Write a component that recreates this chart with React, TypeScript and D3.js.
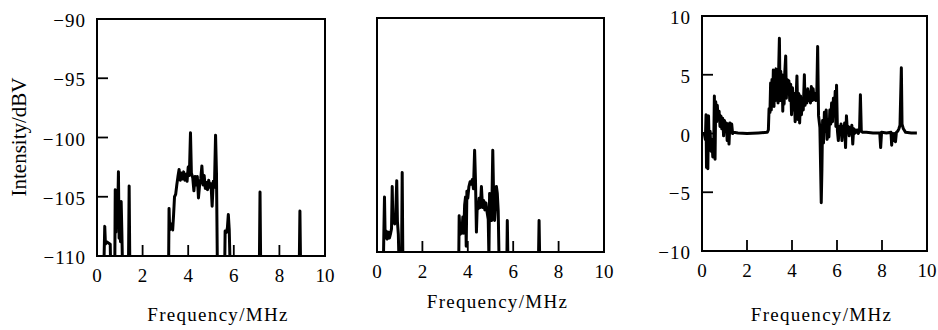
import * as d3 from "d3";

// spectrum readings: [frequency MHz, level]
const leftSpectrum: [number, number][] = [
  [0.3, -111], [0.34, -107.5], [0.37, -109], [0.42, -108.8], [0.5, -108.9], [0.58, -109], [0.6, -111],
  [0.78, -111], [0.8, -104.4], [0.83, -108], [0.86, -105], [0.9, -107.5], [0.94, -102.9], [0.97, -108.5],
  [1.0, -106], [1.03, -108.8], [1.06, -105.4], [1.09, -108], [1.12, -111],
  [1.38, -111], [1.41, -104.1], [1.44, -111],
  [3.14, -111], [3.16, -106.0], [3.19, -107.8], [3.25, -107.3], [3.32, -107.8], [3.36, -106.5], [3.4, -105.0],
  [3.45, -104.8], [3.5, -104.0], [3.55, -103.3], [3.6, -102.7], [3.65, -103.6], [3.7, -103.0], [3.75, -103.5],
  [3.8, -102.9], [3.85, -103.6], [3.9, -103.1], [3.95, -103.7], [4.0, -102.5], [4.05, -103.2], [4.1, -99.6],
  [4.14, -103.0], [4.2, -103.4], [4.25, -104.5], [4.3, -103.3], [4.35, -104.0], [4.4, -103.3], [4.45, -105.1],
  [4.5, -104.0], [4.55, -103.5], [4.6, -102.4], [4.65, -104.0], [4.7, -103.2], [4.75, -104.3], [4.8, -103.8],
  [4.85, -104.4], [4.9, -103.6], [4.95, -104.2], [5.0, -103.9], [5.05, -105.8], [5.1, -103.7], [5.15, -104.2],
  [5.2, -99.8], [5.24, -103.0], [5.28, -111],
  [5.6, -111], [5.62, -107.9], [5.68, -108.0], [5.72, -107.6], [5.76, -106.5], [5.8, -107.8], [5.84, -111],
  [7.12, -111], [7.15, -104.6], [7.18, -111],
  [8.87, -111], [8.9, -106.2], [8.93, -111],
];

const middleSpectrum: [number, number][] = [
  [0.28, -111], [0.3, -108.6], [0.33, -105.3], [0.36, -108.8], [0.4, -108.2], [0.45, -108.9], [0.5, -108.3],
  [0.55, -108.8], [0.6, -108.4], [0.64, -108], [0.67, -104.4], [0.7, -107.5], [0.74, -106.8], [0.78, -107.6],
  [0.82, -107], [0.87, -103.9], [0.9, -107.4], [0.94, -108.5], [0.97, -111],
  [1.08, -111], [1.11, -103.2], [1.14, -111],
  [3.6, -111], [3.62, -106.9], [3.66, -108.5], [3.7, -107.6], [3.74, -108.4], [3.78, -107.0], [3.82, -108.4],
  [3.86, -106.0], [3.9, -105.3], [3.93, -109.5], [3.96, -104.8], [4.0, -105.4], [4.05, -104.4], [4.1, -104.0],
  [4.15, -104.2], [4.2, -103.8], [4.25, -104.6], [4.3, -101.3], [4.34, -104.0], [4.38, -108.3], [4.42, -105.8],
  [4.46, -106.3], [4.5, -105.4], [4.55, -106.2], [4.6, -104.4], [4.65, -106.2], [4.7, -105.6], [4.75, -106.4],
  [4.8, -105.8], [4.85, -106.6], [4.9, -107.2], [4.93, -110.5], [4.96, -105.0], [5.0, -106.8], [5.05, -107.3],
  [5.1, -101.3], [5.14, -105.5], [5.18, -107.3], [5.22, -106.0], [5.26, -104.4], [5.3, -105.0], [5.34, -106.5],
  [5.38, -111],
  [5.72, -111], [5.74, -107.3], [5.77, -111],
  [7.11, -111], [7.14, -107.3], [7.17, -111],
];

const differenceSpectrum: [number, number][] = [
  [0.0, 0], [0.1, 0], [0.15, -0.5], [0.18, 1.6], [0.2, -2.9], [0.23, 1.4], [0.26, -3.0], [0.29, 1.5],
  [0.32, -1.0], [0.36, 0.2], [0.4, -1.5], [0.44, -0.5], [0.48, -2.0], [0.52, -1.2], [0.55, 3.2], [0.58, -2.2],
  [0.61, 2.7], [0.65, 1.0], [0.68, 2.4], [0.72, 1.2], [0.76, 1.9], [0.8, 0.6], [0.84, 1.5], [0.88, 0.4],
  [0.92, 1.3], [0.96, -0.2], [1.0, 1.1], [1.04, 0.2], [1.08, 0.9], [1.12, -0.6], [1.16, 0.8], [1.2, -0.9],
  [1.24, 0.9], [1.28, 0.1], [1.32, 0.8], [1.36, 0.0], [1.4, 0.1],
  [1.6, 0.05], [2.0, 0.0], [2.5, 0.05], [2.9, 0.1],
  [2.95, 0.3], [2.98, 2.1], [3.02, 1.8], [3.05, 4.3], [3.08, 2.0], [3.11, 4.6], [3.14, 2.4], [3.17, 5.4],
  [3.2, 2.3], [3.23, 5.2], [3.26, 2.8], [3.29, 5.5], [3.32, 3.0], [3.35, 4.8], [3.38, 2.6], [3.41, 5.6],
  [3.44, 8.1], [3.47, 2.8], [3.5, 5.3], [3.53, 3.6], [3.56, 5.0], [3.59, 1.9], [3.62, 4.8], [3.65, 2.5],
  [3.68, 5.2], [3.72, 6.6], [3.75, 3.0], [3.78, 4.6], [3.82, 3.4], [3.86, 4.5], [3.9, 2.8], [3.94, 4.2],
  [3.98, 1.6], [4.02, 3.9], [4.06, 2.0], [4.1, 3.4], [4.14, 1.0], [4.18, 3.0], [4.22, 4.9], [4.26, 1.2],
  [4.3, 3.4], [4.34, 0.9], [4.38, 3.2], [4.42, 1.6], [4.46, 3.0], [4.5, 2.0], [4.55, 5.0], [4.58, 2.4],
  [4.62, 3.6], [4.66, 2.6], [4.7, 3.8], [4.74, 2.8], [4.78, 3.5], [4.82, 2.6], [4.86, 4.0], [4.9, 2.8],
  [4.94, 3.8], [4.98, 2.9], [5.02, 3.4], [5.06, 2.8], [5.1, 3.1], [5.14, 7.4], [5.18, 1.5], [5.24, 0.5],
  [5.3, -5.9], [5.33, -3.0], [5.36, 1.1], [5.4, -0.8], [5.44, 1.8], [5.48, 0.2], [5.52, 2.0], [5.56, -0.5],
  [5.6, 1.2], [5.64, -0.3], [5.68, 2.0], [5.72, 0.8], [5.76, 2.6], [5.8, 1.0], [5.84, 3.0], [5.88, 1.5],
  [5.92, 3.6], [5.95, 0.6], [5.98, 4.1], [6.02, 0.2], [6.06, -0.6], [6.1, 0.6], [6.14, 0.2], [6.18, 0.8],
  [6.22, -0.6], [6.26, 0.6], [6.3, 0.1], [6.34, 0.9], [6.38, -1.2], [6.42, 1.5], [6.46, 0.2], [6.5, 0.6],
  [6.54, -0.2], [6.58, 0.5], [6.62, 0.1], [6.66, 0.7], [6.7, -0.9], [6.74, 0.4], [6.78, 0.0], [6.82, 0.3],
  [6.86, 0.1], [6.9, 0.3], [6.94, 0.0], [7.0, 0.2], [7.04, 3.3], [7.08, 0.2], [7.14, 0.1], [7.3, 0.1],
  [7.6, 0.05], [7.9, 0.05], [7.94, -1.2], [7.98, 0.1], [8.2, 0.05], [8.4, 0.1], [8.43, -1.0], [8.46, 0.0],
  [8.5, -0.6], [8.54, 0.0], [8.6, -0.7], [8.64, 0.1], [8.7, 0.2], [8.75, 0.4], [8.8, 0.7], [8.86, 5.6],
  [8.89, 0.8], [8.95, 0.4], [9.05, 0.1], [9.3, 0.05], [9.55, 0.05],
];

const freqTicks = [0, 2, 4, 6, 8, 10];
const levelTicks = [-110, -105, -100, -95, -90];
const differenceTicks = [-10, -5, 0, 5, 10];

const xTitle = "Frequency/MHz";
const yTitle = "Intensity/dBV";

const serif = "'Liberation Serif', 'Times New Roman', serif";

interface PanelProps {
  id: string;
  left: number;
  right: number;
  top: number;
  bottom: number;
  yDomain: [number, number];
  yTicks: number[];
  showYLabels: boolean;
  data: [number, number][];
  titleY: number;
}

function Panel({ id, left, right, top, bottom, yDomain, yTicks, showYLabels, data, titleY }: PanelProps) {
  const x = d3.scaleLinear().domain([0, 10]).range([left, right]);
  const y = d3.scaleLinear().domain(yDomain).range([bottom, top]);
  const line = d3
    .line<[number, number]>()
    .x((d) => x(d[0]))
    .y((d) => y(d[1]));
  const fmt = d3.format("d");
  const tickLen = 11;

  return (
    <g>
      <clipPath id={id}>
        <rect x={left} y={top} width={right - left} height={bottom - top} />
      </clipPath>
      <path
        d={line(data) ?? ""}
        fill="none"
        stroke="#000"
        strokeWidth={3}
        strokeLinejoin="round"
        clipPath={`url(#${id})`}
      />
      {freqTicks.slice(1, -1).map((t) => (
        <line key={`xt${t}`} x1={x(t)} x2={x(t)} y1={bottom} y2={bottom - tickLen} stroke="#000" strokeWidth={1.8} />
      ))}
      {showYLabels &&
        yTicks.slice(1, -1).map((t) => (
          <line key={`yt${t}`} x1={left} x2={left + tickLen} y1={y(t)} y2={y(t)} stroke="#000" strokeWidth={1.8} />
        ))}
      <rect
        x={left}
        y={top}
        width={right - left}
        height={bottom - top}
        fill="none"
        stroke="#000"
        strokeWidth={2}
      />
      {freqTicks.map((t) => (
        <text key={`xl${t}`} x={x(t)} y={bottom + 26} textAnchor="middle" fontSize={19} fontFamily={serif}>
          {fmt(t)}
        </text>
      ))}
      {showYLabels &&
        yTicks.map((t) => (
          <text
            key={`yl${t}`}
            x={left - 11}
            y={y(t) + 8}
            textAnchor="end"
            fontSize={19}
            letterSpacing={1}
            fontFamily={serif}
          >
            {fmt(t)}
          </text>
        ))}
      <text
        x={(left + right) / 2 + 7}
        y={titleY}
        textAnchor="middle"
        fontSize={19}
        letterSpacing={1.3}
        fontFamily={serif}
      >
        {xTitle}
      </text>
    </g>
  );
}

export default function App() {
  return (
    <svg
      width={938}
      height={330}
      style={{ position: "absolute", left: 0, top: 0, background: "#fff" }}
    >
      <rect width={938} height={330} fill="#fff" />
      <Panel
        id="clip-a"
        left={97}
        right={325}
        top={19}
        bottom={256}
        yDomain={[-110, -90]}
        yTicks={levelTicks}
        showYLabels={true}
        data={leftSpectrum}
        titleY={321}
      />
      <Panel
        id="clip-b"
        left={377}
        right={604}
        top={18}
        bottom={252}
        yDomain={[-110, -90]}
        yTicks={levelTicks}
        showYLabels={false}
        data={middleSpectrum}
        titleY={308}
      />
      <Panel
        id="clip-c"
        left={702}
        right={927}
        top={16}
        bottom={251}
        yDomain={[-10, 10]}
        yTicks={differenceTicks}
        showYLabels={true}
        data={differenceSpectrum}
        titleY={321}
      />
      <text
        transform="translate(26,137) rotate(-90)"
        textAnchor="middle"
        fontSize={21}
        fontFamily={serif}
      >
        {yTitle}
      </text>
    </svg>
  );
}
